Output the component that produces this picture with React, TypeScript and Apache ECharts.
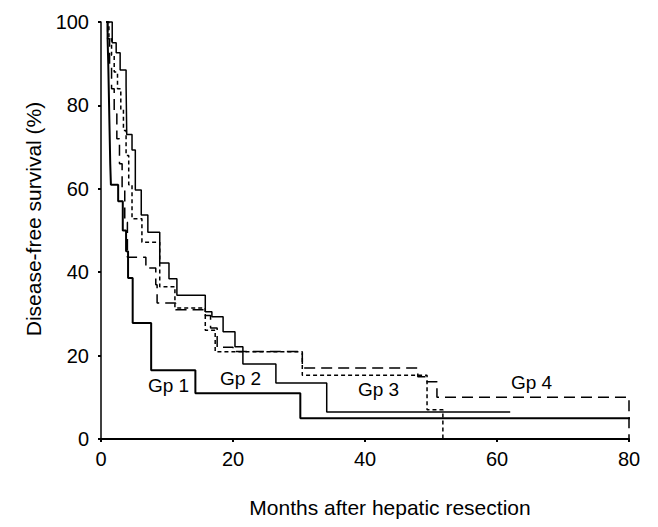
import React, { useEffect, useRef } from "react";
import * as echarts from "echarts";

// Tick values
const xTicks = [0, 20, 40, 60, 80];
const yTicks = [0, 20, 40, 60, 80, 100];

// Kaplan–Meier steps: [months, survival %] (survival from that month on)
const gp1: [number, number][] = [
  [0.8, 100], [1.0, 96], [1.1, 90], [1.2, 82], [1.3, 74], [1.4, 66], [1.5, 61],
  [2.6, 57], [3.3, 50], [3.8, 45], [4.1, 38.6], [4.8, 27.8], [7.6, 16.5],
  [14.3, 11], [30.2, 5], [83.5, 5],
];
const gp2: [number, number][] = [
  [0.8, 100], [1.7, 95], [2.3, 92.6], [2.9, 88.5], [3.8, 84.7], [3.9, 73],
  [4.7, 69.3], [5.2, 59.7], [6.1, 53.7], [7.1, 49.6], [8.9, 42.2], [10.3, 38.4],
  [11.5, 34.5], [15.8, 30.5], [16.8, 29.3], [18.5, 25.7], [20.3, 22.1],
  [21.5, 18], [26.5, 13.4], [34.2, 6.5], [62, 6.5],
];
const gp3: [number, number][] = [
  [0.8, 100], [1.2, 96], [1.6, 92], [2.0, 88], [2.5, 84], [3.0, 79], [3.4, 74],
  [3.8, 68], [4.2, 61], [4.7, 52.8], [6.2, 47.2], [8.9, 36.5], [11.2, 31.4],
  [15.8, 26.1], [17.3, 20.9], [30.5, 15.3], [49.4, 7], [51.8, 0],
];
const gp4: [number, number][] = [
  [0.8, 100], [1.0, 96], [1.3, 90], [1.6, 84], [2.0, 78], [2.4, 72], [2.8, 66],
  [3.2, 60], [3.6, 52], [4.0, 43.6], [6.8, 41], [8.3, 37], [8.5, 32.6],
  [11.3, 31], [15.8, 29.6], [16.6, 26.6], [17.6, 22], [20.0, 21], [30.5, 17],
  [48.0, 14.9], [49.1, 13.7], [50.9, 10], [80, 0],
];

const groupNames = ["Gp 1", "Gp 2", "Gp 3", "Gp 4"];

export default function App() {
  const ref = useRef<HTMLDivElement>(null);
  useEffect(() => {
    const chart = echarts.init(ref.current!, undefined, { renderer: "svg" });
    const font = "'Liberation Sans', Arial, Helvetica, sans-serif";
    const base = (name: string, data: [number, number][], width: number, type: any) => ({
      name,
      type: "line",
      step: "end",
      data,
      symbol: "none",
      showSymbol: false,
      clip: false,
      lineStyle: { color: "#000", width, type },
      z: 3,
    });
    chart.setOption({
      animation: false,
      backgroundColor: "#ffffff",
      grid: { left: 101, right: 29, top: 22, bottom: 88 },
      xAxis: {
        type: "value",
        min: xTicks[0],
        max: xTicks[xTicks.length - 1],
        interval: xTicks[1] - xTicks[0],
        axisLine: { lineStyle: { color: "#000", width: 2 } },
        axisTick: { length: 3, lineStyle: { color: "#000", width: 2 } },
        axisLabel: { color: "#000", fontSize: 20, fontFamily: font, margin: 10 },
        splitLine: { show: false },
      },
      yAxis: {
        type: "value",
        min: yTicks[0],
        max: yTicks[yTicks.length - 1],
        interval: yTicks[1] - yTicks[0],
        axisLine: { show: true, lineStyle: { color: "#000", width: 1.5 } },
        axisTick: { show: true, length: 3, lineStyle: { color: "#000", width: 2 } },
        axisLabel: { color: "#000", fontSize: 20, fontFamily: font, margin: 12 },
        splitLine: { show: false },
      },
      series: [
        base(groupNames[0], gp1, 2, "solid"),
        base(groupNames[1], gp2, 1.5, "solid"),
        base(groupNames[2], gp3, 1.5, [4, 3]),
        base(groupNames[3], gp4, 1.5, [11, 6]),
      ],
      graphic: [
        {
          type: "text",
          x: 33,
          y: 219,
          rotation: Math.PI / 2,
          style: {
            text: "Disease-free survival (%)",
            fontSize: 21,
            fontFamily: font,
            fill: "#000",
            textAlign: "center",
            textVerticalAlign: "middle",
          },
        },
        {
          type: "text",
          x: 390,
          y: 507,
          style: {
            text: "Months after hepatic resection",
            fontSize: 21,
            fontFamily: font,
            fill: "#000",
            textAlign: "center",
            textVerticalAlign: "middle",
          },
        },
        { type: "text", x: 148, y: 376, style: { text: groupNames[0], fontSize: 19, fontFamily: font, fill: "#000" } },
        { type: "text", x: 220, y: 369, style: { text: groupNames[1], fontSize: 19, fontFamily: font, fill: "#000" } },
        { type: "text", x: 358, y: 380, style: { text: groupNames[2], fontSize: 19, fontFamily: font, fill: "#000" } },
        { type: "text", x: 511, y: 373, style: { text: groupNames[3], fontSize: 19, fontFamily: font, fill: "#000" } },
      ],
    });
    return () => chart.dispose();
  }, []);
  return (
    <div
      ref={ref}
      style={{ position: "fixed", left: 0, top: 0, width: 658, height: 527, background: "#fff" }}
    />
  );
}
